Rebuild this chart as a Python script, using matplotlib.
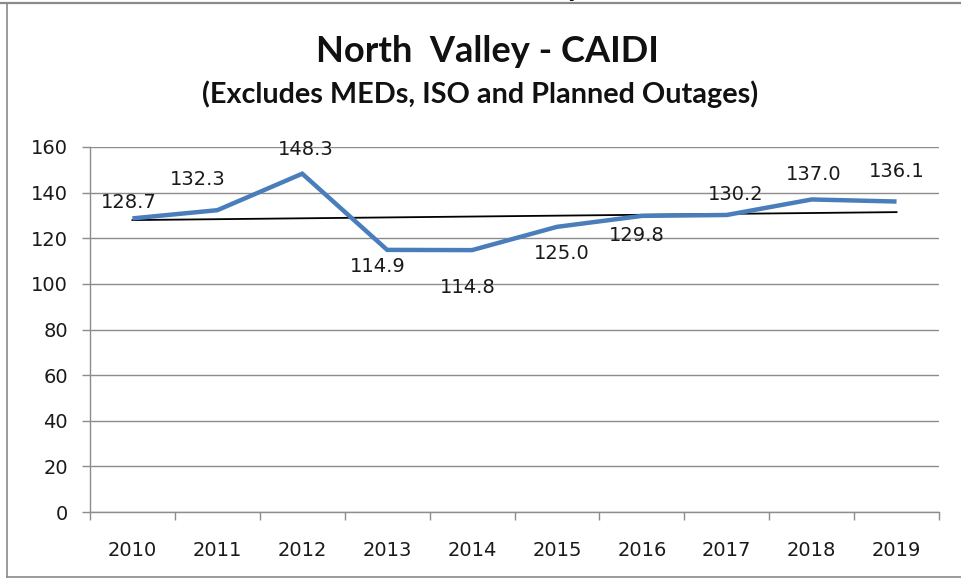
import numpy as np
import matplotlib
matplotlib.use("Agg")
import matplotlib.pyplot as plt
from matplotlib.lines import Line2D

# CAIDI values by year
years = ["2010", "2011", "2012", "2013", "2014", "2015", "2016", "2017", "2018", "2019"]
caidi = [128.7, 132.3, 148.3, 114.9, 114.8, 125.0, 129.8, 130.2, 137.0, 136.1]
y_ticks = [0, 20, 40, 60, 80, 100, 120, 140, 160]

# hand-placed label offsets (pixels) relative to each point
label_dx = [-3.5, -20, 3, -9, -4, 5, -5, 9, 2, 0]
label_dy = [17.4, 33, 26, -15, -35, -25, -18, 22, 26.5, 32]

W, H = 962, 578
fig = plt.figure(figsize=(W / 100, H / 100), dpi=100)
fig.patch.set_facecolor("white")

ax = fig.add_axes([90 / W, 1 - 512 / H, (939 - 90) / W, (512 - 147) / H])
x = np.arange(len(years))

grid_c = "#8c8c8c"
text_c = "#1a1a1a"

ax.set_xlim(-0.5, len(years) - 0.5)
ax.set_ylim(0, 160)
ax.set_yticks(y_ticks)
ax.set_yticklabels([str(v) for v in y_ticks], fontsize=14, color=text_c,
                   family="DejaVu Sans")
ax.yaxis.grid(True, color=grid_c, linewidth=1.0)
ax.set_axisbelow(True)

# category boundaries carry the tick marks; labels sit at category centres
ax.set_xticks(np.arange(-0.5, len(years), 1.0))
ax.set_xticklabels([])
ax.set_xticks(x, minor=True)
ax.set_xticklabels(years, minor=True, fontsize=14, color=text_c,
                   family="DejaVu Sans")
ax.tick_params(axis="x", which="major", length=6, width=1, color=grid_c,
               direction="out")
ax.tick_params(axis="x", which="minor", length=0, pad=21)
ax.tick_params(axis="y", length=6, width=1, color=grid_c, direction="out",
               pad=10)

for s in ("top", "right"):
    ax.spines[s].set_visible(False)
for s in ("left", "bottom"):
    ax.spines[s].set_color(grid_c)
    ax.spines[s].set_linewidth(1.0)

# linear trend line
coef = np.polyfit(x, caidi, 1)
ax.plot(x, np.polyval(coef, x), color="black", linewidth=1.3, zorder=3)

ax.plot(x, caidi, color="#4a7ebb", linewidth=3.2, solid_capstyle="butt",
        solid_joinstyle="miter", zorder=4)

for xi, v, dx, dy in zip(x, caidi, label_dx, label_dy):
    ax.annotate(f"{v:.1f}", (xi, v), xytext=(dx, dy - 7.4),
                textcoords="offset pixels", ha="center", va="baseline",
                fontsize=14, color=text_c, family="DejaVu Sans", zorder=5)

title = fig.text(487.5 / W, 1 - 62 / H, "North  Valley - CAIDI", ha="center",
                 va="baseline", fontsize=23, fontweight="bold",
                 family="Lato", color="#111111")
subtitle = fig.text(480 / W, 1 - 103 / H,
                    "(Excludes MEDs, ISO and Planned Outages)", ha="center",
                    va="baseline", fontsize=16, fontweight="bold",
                    family="Lato", color="#111111")

# size the headings to their set widths
fig.canvas.draw()
r = fig.canvas.get_renderer()
for t, target in ((title, 345), (subtitle, 556)):
    wpx = t.get_window_extent(r).width
    t.set_fontsize(t.get_fontsize() * target / wpx)

# clipped heading fragment above the frame
fig.text(566 / W, 1 + 4 / H, "y", ha="left", va="baseline", fontsize=23,
         fontweight="bold", family="Lato", color="#111111")

# chart frame
frame_c = "#8a8a8a"
fig.add_artist(Line2D([0, 1], [1 - 3 / H, 1 - 3 / H], transform=fig.transFigure,
                      color=frame_c, linewidth=1.6))
fig.add_artist(Line2D([7 / W, 7 / W], [1 - 3 / H, 1 - 577 / H],
                      transform=fig.transFigure, color=frame_c, linewidth=1.2))
fig.add_artist(Line2D([7 / W, 1], [1 - 577 / H, 1 - 577 / H],
                      transform=fig.transFigure, color=frame_c, linewidth=1.2))

fig.savefig("out.png", dpi=100, facecolor="white")
